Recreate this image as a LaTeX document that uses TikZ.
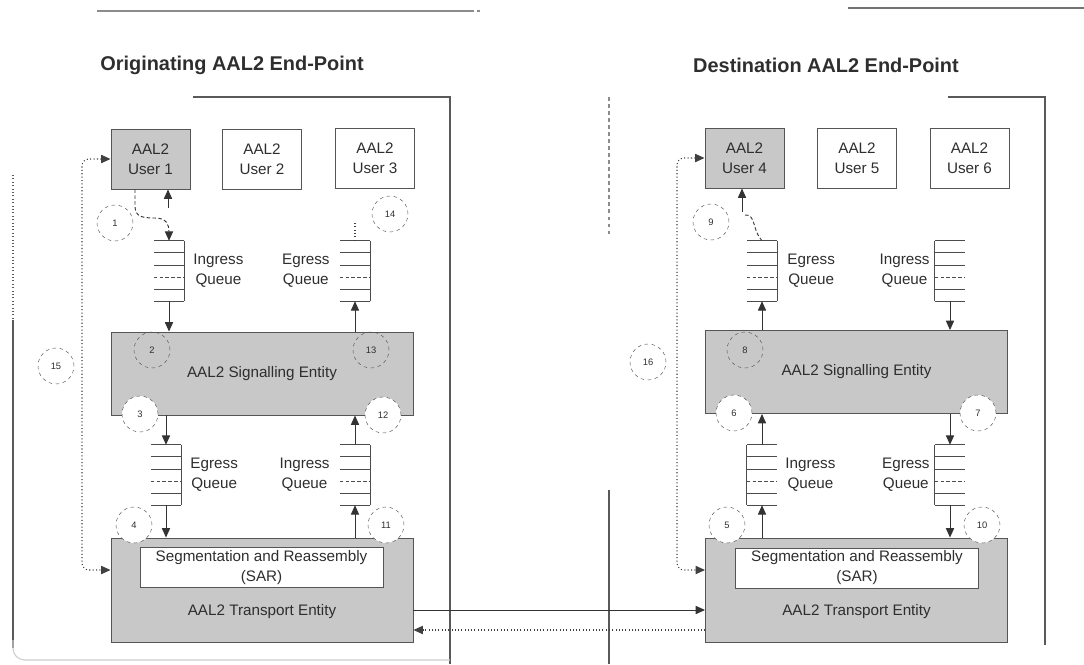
\documentclass[tikz,border=0pt]{standalone}
\usepackage{fontspec}
\setmainfont{Liberation Sans}
\usetikzlibrary{positioning, arrows.meta, calc}
\definecolor{entity-gray}{HTML}{C8C8C8}
\definecolor{line-gray}{HTML}{555555}
\definecolor{text-gray}{HTML}{2E2E2E}

\begin{document}
\begin{tikzpicture}[x=0.03cm, y=-0.03cm,
      every node/.style={font=\fontsize{13}{17}\selectfont, text=text-gray},
      user/.style={draw=line-gray, line width=0.8pt, minimum width=2.37cm,
        minimum height=1.8cm, align=center},
      entity/.style={draw=line-gray, fill=entity-gray, line width=0.8pt,
        minimum width=9.06cm},
      sarbox/.style={draw=line-gray, fill=white, line width=0.6pt,
        minimum width=7.29cm, minimum height=1.2cm, align=center, inner sep=0pt},
      queue/.style={minimum width=0.9cm, minimum height=1.8cm, inner sep=0pt},
      qlabel/.style={align=center, inner sep=0pt},
      qline/.style={line width=0.7pt, draw=black!70},
      stepnum/.style={circle, draw=line-gray, dashed, minimum size=1.08cm,
        inner sep=0pt, font=\fontsize{8}{8}\selectfont},
      stepedge/.style={stepnum, fill=white},
      arr/.style={-{Triangle[width=7pt,length=8pt]}, line width=0.8pt, draw=black!80},
      dotline/.style={dotted, line width=0.9pt, draw=black!75},
      frame/.style={line width=0.9pt, draw=black!65}]
    \useasboundingbox (0,0) rectangle (1084,664);

    \draw[frame, black!45] (97,11) -- (470,11);
    \draw[frame, black!45, dashed] (470,11) -- (480,11);
    \draw[frame, black!55] (848,8) -- (1084,8);
    \draw[frame] (193,97) -- (450,97) -- (450,664);
    \draw[frame, dotted] (13,175) -- (13,320);
    \draw[frame] (13,320) -- (13,648);
    \draw[frame, black!20, rounded corners=10pt] (13,640) -- (13,660) -- (450,660);
    \draw[frame] (948,97) -- (1045,97) -- (1045,645);
    \draw[frame, dashed, black!45] (609,97) -- (609,235);
    \draw[frame] (609,490) -- (609,664);

    \node[font=\fontsize{17}{20}\selectfont\bfseries] (otitle) at (232,65)
          {Originating AAL2 End-Point};
    \node[font=\fontsize{17}{20}\selectfont\bfseries] (dtitle) at (826,65)
          {Destination AAL2 End-Point};

    \node[user, fill=entity-gray] (U1) at (150.5,159) {AAL2\\User 1};
    \node[user] (U2) at (262,159) {AAL2\\User 2};
    \node[user] (U3) at (375,158) {AAL2\\User 3};
    \node[user, fill=entity-gray] (U4) at (744.5,158) {AAL2\\User 4};
    \node[user] (U5) at (857,158) {AAL2\\User 5};
    \node[user] (U6) at (969.5,158) {AAL2\\User 6};

    \node[queue] (oIQ) at (169,271) {};
    \node[qlabel, right=0.27cm of oIQ] (oIQl) {Ingress\\Queue};
    \node[queue] (oEQ) at (355,271) {};
    \node[qlabel, left=0.3cm of oEQ] (oEQl) {Egress\\Queue};
    \node[queue] (oEQ2) at (166,475) {};
    \node[qlabel, right=0.27cm of oEQ2] (oEQ2l) {Egress\\Queue};
    \node[queue] (oIQ2) at (355,475) {};
    \node[qlabel, left=0.3cm of oIQ2] (oIQ2l) {Ingress\\Queue};
    \node[queue] (dEQ) at (762,271) {};
    \node[qlabel, right=0.3cm of dEQ] (dEQl) {Egress\\Queue};
    \node[queue] (dIQ) at (950,271) {};
    \node[qlabel, left=0.15cm of dIQ] (dIQl) {Ingress\\Queue};
    \node[queue] (dIQ2) at (762,475) {};
    \node[qlabel, right=0.24cm of dIQ2] (dIQ2l) {Ingress\\Queue};
    \node[queue] (dEQ2) at (950,475) {};
    \node[qlabel, left=0.15cm of dEQ2] (dEQ2l) {Egress\\Queue};

    \foreach \q/\s in {oIQ/east, oEQ/east, oEQ2/east, oIQ2/east,
                      dEQ/east, dIQ/west, dIQ2/west, dEQ2/west} {
      \foreach \f in {0,0.2,0.4,0.8,1}
        \draw[qline] ($(\q.north west)!\f!(\q.south west)$)
                  -- ($(\q.north east)!\f!(\q.south east)$);
      \draw[qline, densely dashed] ($(\q.north west)!0.6!(\q.south west)$)
                  -- ($(\q.north east)!0.6!(\q.south east)$);
      \draw[qline] (\q.north \s) -- (\q.south \s);
    }

    \node[entity, minimum height=2.49cm] (oSE) at (262,373.5) {AAL2 Signalling Entity};
    \node[entity, minimum height=2.49cm] (dSE) at (856.5,372) {AAL2 Signalling Entity};
    \node[entity, minimum height=3.12cm,
          label={[yshift=-0.66cm]center:AAL2 Transport Entity}] (oTE) at (262,590) {};
    \node[sarbox] (oSAR) at (261.5,567.5) {Segmentation and Reassembly\\(SAR)};
    \node[entity, minimum height=3.12cm,
          label={[yshift=-0.66cm]center:AAL2 Transport Entity}] (dTE) at (856.5,590) {};
    \node[sarbox] (dSAR) at (857,568) {Segmentation and Reassembly\\(SAR)};

    \coordinate (o1tip) at (168,208);
    \coordinate (o1lead) at (135,189);
    \draw[arr] (o1tip) -- (o1tip |- U1.south);
    \draw[arr, densely dashed] (o1lead |- U1.south) -- (135,205)
          .. controls (135,216) and (140,218) .. (155,218)
          .. controls (166,218) and (169,224) .. (oIQ.north);
    \coordinate (o14) at (355,222);
    \draw[dotline] (oEQ.north) -- (o14);
    \coordinate (d9tip) at (742,212);
    \draw[arr] (d9tip) -- (d9tip |- U4.south);
    \draw[densely dashed, line width=0.8pt, black!75] (745,215)
          .. controls (756,214) and (752,230) .. (dEQ.north);

    \draw[arr] (oIQ.south) -- (oIQ.south |- oSE.north);
    \draw[arr] (oEQ.south |- oSE.north) -- (oEQ.south);
    \draw[arr] (oEQ2.north |- oSE.south) -- (oEQ2.north);
    \draw[arr] (oIQ2.north) -- (oIQ2.north |- oSE.south);
    \draw[arr] (oEQ2.south) -- (oEQ2.south |- oTE.north);
    \draw[arr] (oIQ2.south |- oTE.north) -- (oIQ2.south);
    \draw[arr] (dEQ.south |- dSE.north) -- (dEQ.south);
    \draw[arr] (dIQ.south) -- (dIQ.south |- dSE.north);
    \draw[arr] (dIQ2.north) -- (dIQ2.north |- dSE.south);
    \draw[arr] (dEQ2.north |- dSE.south) -- (dEQ2.north);
    \draw[arr] (dIQ2.south |- dTE.north) -- (dIQ2.south);
    \draw[arr] (dEQ2.south) -- (dEQ2.south |- dTE.north);

    \coordinate (o15) at (82,570);
    \draw[dotline, {Triangle[width=7pt,length=8pt]}-{Triangle[width=7pt,length=8pt]},
          rounded corners=6pt] (U1.west) -| (o15) -- (o15 -| oTE.west);
    \coordinate (d16) at (677,570);
    \draw[dotline, {Triangle[width=7pt,length=8pt]}-{Triangle[width=7pt,length=8pt]},
          rounded corners=6pt] (U4.west) -| (d16) -- (d16 -| dTE.west);

    \coordinate (lnk) at (0,610);
    \coordinate (lnkback) at (0,630);
    \draw[arr] (oTE.east |- lnk) -- (dTE.west |- lnk);
    \draw[arr, dotline] (dTE.west |- lnkback) -- (oTE.east |- lnkback);

    \node[stepnum] (s1) at (115,223) {1};
    \node[stepnum] (s14) at (390,214) {14};
    \node[stepnum] (s2) at (152,350) {2};
    \node[stepnum] (s13) at (371,350) {13};
    \node[stepedge] (s3) at (140,414) {3};
    \node[stepedge] (s12) at (383,415) {12};
    \node[stepedge] (s4) at (134,525) {4};
    \node[stepedge] (s11) at (386,525) {11};
    \node[stepnum] (s15) at (56,366) {15};
    \node[stepnum] (s9) at (711,222) {9};
    \node[stepnum] (s8) at (745,350) {8};
    \node[stepedge] (s6) at (734,413) {6};
    \node[stepedge] (s7) at (978,413) {7};
    \node[stepedge] (s5) at (727,525) {5};
    \node[stepedge] (s10) at (982,525) {10};
    \node[stepnum] (s16) at (648,362) {16};
  \end{tikzpicture}
\end{document}
